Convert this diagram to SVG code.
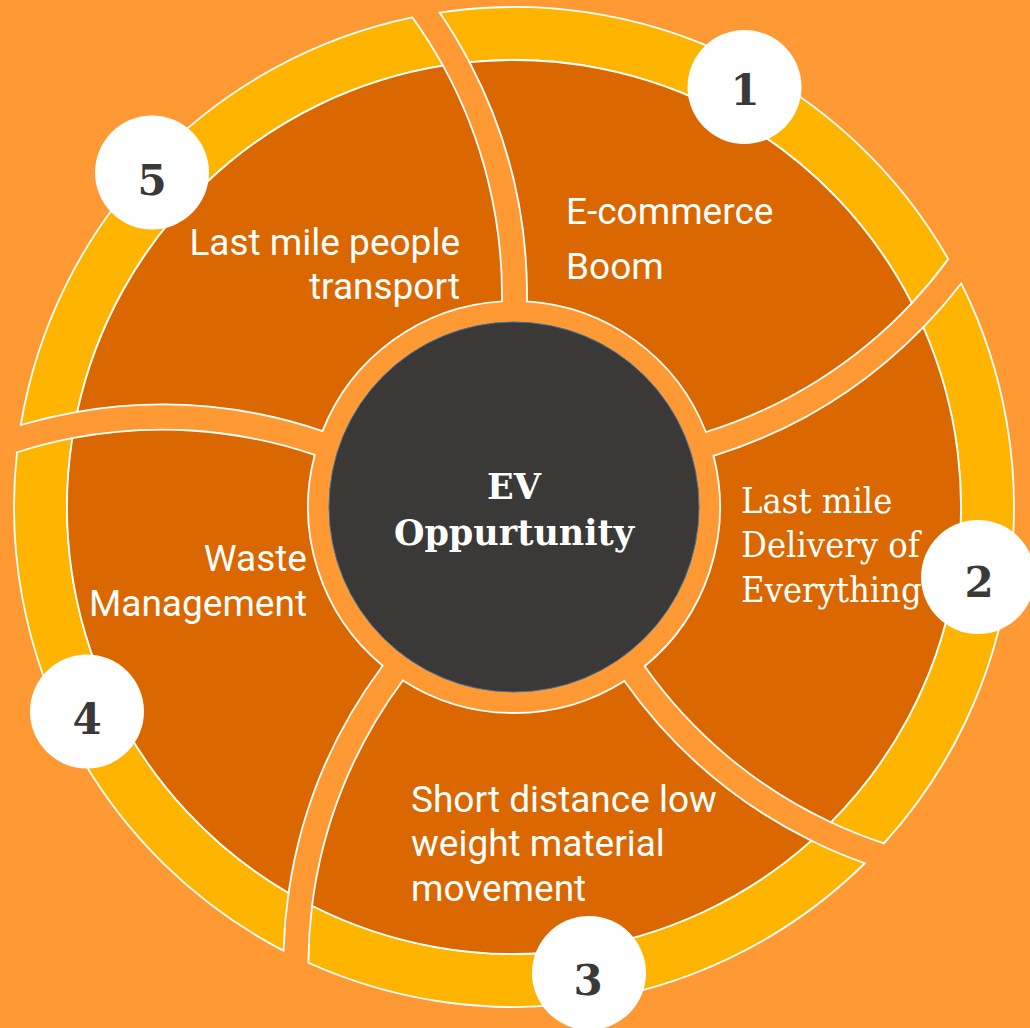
<svg xmlns="http://www.w3.org/2000/svg" width="1030" height="1028" viewBox="0 0 1030 1028">
  <defs>
    <style>
      .dark { fill: #DA6700; stroke: #FFFFFF; stroke-width: 1.8; stroke-linejoin: miter; }
      .band { fill: #FFB400; stroke: #FFFFFF; stroke-width: 1.8; stroke-linejoin: miter; }
      .badge { fill: #FFFFFF; }
      .num { font-family: 'DejaVu Serif', 'Liberation Serif', serif; font-weight: bold; font-size: 42px; fill: #3A3937; text-anchor: middle; }
      .lbl { font-family: Roboto, 'Liberation Sans', sans-serif; font-weight: 400; font-size: 37px; fill: #FFFFFF; }
      .slbl { font-family: 'DejaVu Serif Condensed', 'DejaVu Serif', 'Liberation Serif', serif; font-stretch: condensed; font-size: 36px; fill: #FFFFFF; }
      .core { font-family: 'DejaVu Serif', 'Liberation Serif', serif; font-weight: bold; font-size: 35px; fill: #FFFFFF; text-anchor: middle; }
    </style>
    <path id="segDark" d="M 12.97 -205.59 A 206 206 0 0 1 191.86 -75.00 A 475 475 0 0 0 397.78 -203.90 A 447 447 0 0 0 -44.47 -444.78 A 500 500 0 0 1 12.97 -205.59 Z"/>
    <path id="segBand" d="M -44.47 -444.78 A 447 447 0 0 1 397.78 -203.90 A 475 475 0 0 0 434.24 -247.87 A 500 500 0 0 0 -74.43 -494.43 A 500 500 0 0 1 -44.47 -444.78 Z"/>
  </defs>

  <rect x="0" y="0" width="1030" height="1028" fill="#FF9933"/>

  <g id="segment-1" transform="translate(514 507)">
    <use href="#segBand" class="band"/>
    <use href="#segDark" class="dark"/>
  </g>
  <g id="segment-2" transform="translate(514 507) rotate(72)">
    <use href="#segBand" class="band"/>
    <use href="#segDark" class="dark"/>
  </g>
  <g id="segment-3" transform="translate(514 507) rotate(144)">
    <use href="#segBand" class="band"/>
    <use href="#segDark" class="dark"/>
  </g>
  <g id="segment-4" transform="translate(514 507) rotate(216)">
    <use href="#segBand" class="band"/>
    <use href="#segDark" class="dark"/>
  </g>
  <g id="segment-5" transform="translate(514 507) rotate(288)">
    <use href="#segBand" class="band"/>
    <use href="#segDark" class="dark"/>
  </g>

  <g id="connectors"></g>

  <g id="center">
    <circle cx="514" cy="507" r="185" fill="#3A3937" stroke="#41719C" stroke-width="1"/>
    <text class="core" x="514" y="499">EV</text>
    <text class="core" x="514" y="545">Oppurtunity</text>
  </g>

  <g id="label-1">
    <text class="lbl" x="566" y="224">E-commerce</text>
    <text class="lbl" x="566" y="279">Boom</text>
  </g>
  <g id="label-2">
    <text class="slbl" x="741" y="513">Last mile</text>
    <text class="slbl" x="741" y="557">Delivery of</text>
    <text class="slbl" x="741" y="602">Everything</text>
  </g>
  <g id="label-3">
    <text class="lbl" x="411" y="811.5">Short distance low</text>
    <text class="lbl" x="411" y="856">weight material</text>
    <text class="lbl" x="411" y="901">movement</text>
  </g>
  <g id="label-4">
    <text class="lbl" x="307" y="570.5" text-anchor="end">Waste</text>
    <text class="lbl" x="307" y="615.5" text-anchor="end">Management</text>
  </g>
  <g id="label-5">
    <text class="lbl" x="460" y="255" text-anchor="end">Last mile people</text>
    <text class="lbl" x="460" y="298.5" text-anchor="end">transport</text>
  </g>

  <g id="badge-1">
    <circle class="badge" cx="744.5" cy="87" r="57"/>
    <text class="num" x="745" y="105">1</text>
  </g>
  <g id="badge-2">
    <circle class="badge" cx="978" cy="577" r="57"/>
    <text class="num" x="979" y="597">2</text>
  </g>
  <g id="badge-3">
    <circle class="badge" cx="589" cy="973" r="57"/>
    <text class="num" x="588" y="995">3</text>
  </g>
  <g id="badge-4">
    <circle class="badge" cx="87" cy="711.5" r="57"/>
    <text class="num" x="87" y="734">4</text>
  </g>
  <g id="badge-5">
    <circle class="badge" cx="152" cy="172.5" r="57"/>
    <text class="num" x="152" y="195">5</text>
  </g>
</svg>
